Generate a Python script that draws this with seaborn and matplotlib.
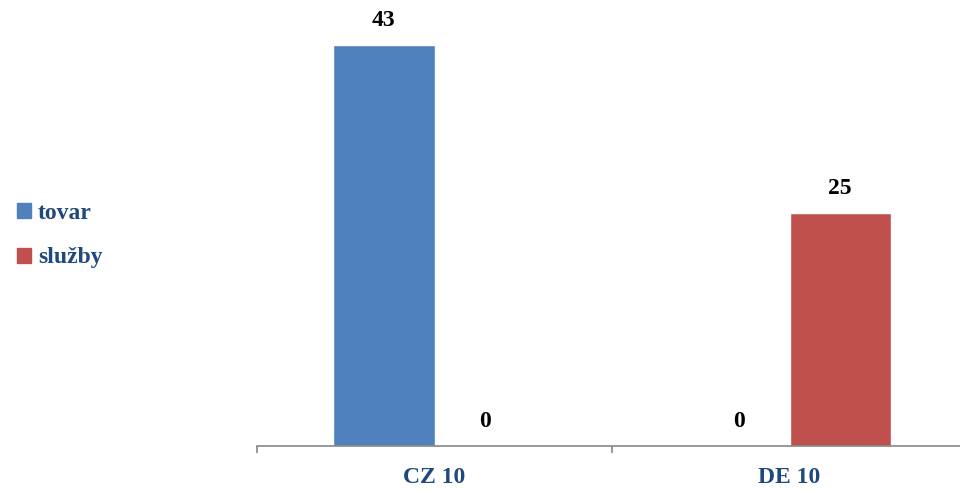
import matplotlib
matplotlib.use("Agg")
import matplotlib.pyplot as plt
import seaborn as sns
import pandas as pd

categories = ["CZ 10", "DE 10"]
series = ["tovar", "služby"]
tovar = [43, 0]
sluzby = [0, 25]

colors = ["#4F81BD", "#C0504D"]
text_blue = "#1F497D"

df = pd.DataFrame({
    "kategoria": categories * 2,
    "typ": [series[0]] * 2 + [series[1]] * 2,
    "hodnota": tovar + sluzby,
})

sns.set_style("white")
plt.rcParams["font.family"] = ["Liberation Serif", "DejaVu Serif"]
plt.rcParams["font.weight"] = "bold"

fig = plt.figure(figsize=(9.6, 4.9), dpi=100)
# axis spans from x=257 px to past the right edge (967 px)
ax = fig.add_axes([257 / 960, 44 / 490, 710 / 960, 420 / 490])

sns.barplot(data=df, x="kategoria", y="hodnota", hue="typ", palette=colors,
            width=0.57, saturation=1, ax=ax, legend=False)

for cont in ax.containers:
    ax.bar_label(cont, padding=10, fontsize=17, fontweight="bold", color="black")

ax.set_xlim(-0.5, 1.5)
ax.set_ylim(0, 45)
ax.set_xlabel("")
ax.set_ylabel("")
ax.set_yticks([])
for s in ["top", "right", "left"]:
    ax.spines[s].set_visible(False)
ax.spines["bottom"].set_color("#868686")
ax.spines["bottom"].set_linewidth(1.2)

ax.set_xticks([0, 1])
ax.set_xticklabels(categories, fontsize=17, fontweight="bold", color=text_blue)
ax.tick_params(axis="x", which="major", bottom=True, length=0, pad=15)
ax.set_xticks([-0.5, 0.5, 1.5], minor=True)
ax.tick_params(axis="x", which="minor", bottom=True, length=5, width=1.2,
               color="#868686", direction="out")

# legend on the left side
handles = [plt.Rectangle((0, 0), 1, 1, color=c) for c in colors]
fig.legend(handles, series, loc="upper left", bbox_to_anchor=(0.0, 0.62),
           frameon=False, borderaxespad=0.3, handlelength=0.6, handleheight=0.6,
           handletextpad=0.3, labelspacing=1.0, labelcolor=text_blue,
           prop={"weight": "bold", "size": 17})

fig.savefig("out.png", dpi=100)
